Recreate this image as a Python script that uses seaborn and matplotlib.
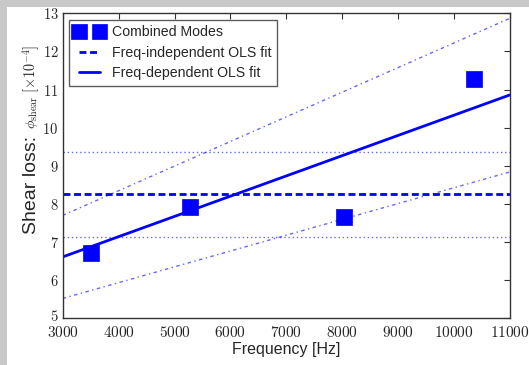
import matplotlib
matplotlib.use("Agg")
import matplotlib.pyplot as plt
import seaborn as sns
import pandas as pd
from matplotlib.patches import Rectangle
from matplotlib.ticker import FuncFormatter, FixedLocator
from matplotlib.transforms import ScaledTranslation

# ---- data ----
freq_hz = [3500, 5270, 8030, 10350]
shear_loss = [6.70, 7.92, 7.67, 11.28]

fit_x = [3000, 11000]
fit_dep = [6.61, 10.86]          # frequency-dependent OLS fit
band_dep_upper = [7.70, 12.87]   # dash-dot uncertainty band
band_dep_lower = [5.52, 8.84]
fit_indep = [8.25, 8.25]         # frequency-independent OLS fit
band_indep_upper = [9.37, 9.37]
band_indep_lower = [7.12, 7.12]

x_ticks = [3000, 4000, 5000, 6000, 7000, 8000, 9000, 10000, 11000]
y_ticks = [5, 6, 7, 8, 9, 10, 11, 12, 13]

labels = ["Combined Modes", "Freq-independent OLS fit", "Freq-dependent OLS fit"]
ylabel_text = "Shear loss:"
ylabel_math = r'$\phi_{\rm shear}$ $[\times 10^{-4}]$'
xlabel_text = "Frequency [Hz]"

# ---- style ----
sns.set_style("white")
plt.rcParams['font.family'] = ['Liberation Sans', 'DejaVu Sans']
plt.rcParams['mathtext.fontset'] = 'cm'

W, H = 529, 365
fig = plt.figure(figsize=(W / 100, H / 100), dpi=100, facecolor='#c8c8c8')
fig.add_artist(Rectangle((7 / W, 0), 1, (H - 7) / H, transform=fig.transFigure,
                         facecolor='white', edgecolor='none', zorder=-10))

ax = fig.add_axes([62.7 / W, (H - 318.3) / H, (510 - 62.7) / W, (318.3 - 13.3) / H])
ax.set_facecolor('white')

blue = '#0000ff'

# bands
sns.lineplot(x=fit_x, y=band_dep_upper, color=blue, lw=1, alpha=0.6,
             linestyle=(0, (2.5, 2.5, 1, 2.5)), ax=ax)
sns.lineplot(x=fit_x, y=band_dep_lower, color=blue, lw=1, alpha=0.6,
             linestyle=(0, (2.5, 2.5, 1, 2.5)), ax=ax)
sns.lineplot(x=fit_x, y=band_indep_upper, color=blue, lw=1, alpha=0.6,
             linestyle=(0, (1, 2)), ax=ax)
sns.lineplot(x=fit_x, y=band_indep_lower, color=blue, lw=1, alpha=0.6,
             linestyle=(0, (1, 2)), ax=ax)

# fits
sns.lineplot(x=fit_x, y=fit_indep, color=blue, lw=2,
             linestyle=(0, (2.5, 1.3)), label=labels[1], ax=ax)
sns.lineplot(x=fit_x, y=fit_dep, color=blue, lw=2, label=labels[2], ax=ax)

# points
df = pd.DataFrame({'Frequency': freq_hz, 'Loss': shear_loss})
sns.scatterplot(data=df, x='Frequency', y='Loss', marker='s', s=125,
                color=blue, edgecolor=blue, linewidth=0.5,
                label=labels[0], ax=ax, zorder=5)

ax.set_xlim(3000, 11000)
ax.set_ylim(5, 13)
ax.xaxis.set_major_locator(FixedLocator(x_ticks))
ax.yaxis.set_major_locator(FixedLocator(y_ticks))
fmt = FuncFormatter(lambda v, p: r'$%d$' % int(round(v)))
ax.xaxis.set_major_formatter(fmt)
ax.yaxis.set_major_formatter(fmt)
ax.tick_params(direction='in', top=True, right=True, length=4.5, width=0.8,
               color='#333333')
ax.tick_params(axis='x', pad=5, labelsize=11)
ax.tick_params(axis='y', pad=3, labelsize=10.5)
for s in ax.spines.values():
    s.set_color('#333333')
    s.set_linewidth(1.0)

# lift the lowest y tick label a touch so it clears the first x tick label
first_tick = ax.yaxis.get_major_ticks()[0]
first_tick.label1.set_transform(first_tick.label1.get_transform()
                                + ScaledTranslation(0, 2.5 / 72, fig.dpi_scale_trans))

ax.set_xlabel(xlabel_text, fontsize=11.5, labelpad=1.2)
ax.set_ylabel("")

# y label: sans part + math part, stacked along the rotated baseline
base_x = 35.5 / W
t1 = fig.text(base_x, (H - 234) / H, ylabel_text + " ", rotation=90,
              rotation_mode='anchor', ha='left', va='baseline', fontsize=14)
fig.canvas.draw()
bb = t1.get_window_extent()
fig.text(base_x, (bb.y1 + 2) / H, ylabel_math, rotation=90,
         rotation_mode='anchor', ha='left', va='baseline', fontsize=10.3)

handles, labs = ax.get_legend_handles_labels()
order = [labs.index(l) for l in labels]
leg = ax.legend([handles[i] for i in order], [labs[i] for i in order],
                loc='upper left', fontsize=10.2, scatterpoints=2, numpoints=2,
                scatteryoffsets=[0.5],
                fancybox=False, frameon=True, edgecolor='#333333',
                handlelength=2.05, handletextpad=0.6,
                borderaxespad=0.45, labelspacing=0.45)
leg.get_frame().set_linewidth(1.0)

fig.savefig('out.png', dpi=100, facecolor=fig.get_facecolor())
